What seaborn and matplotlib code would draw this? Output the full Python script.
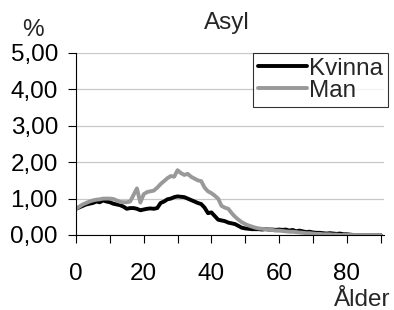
import numpy as np
import pandas as pd
import matplotlib
matplotlib.use('Agg')
import matplotlib.pyplot as plt
import seaborn as sns

# Andel (%) per ålder
alder = list(range(0, 91))
kvinna = [0.72, 0.76, 0.80, 0.84, 0.86, 0.88, 0.92, 0.90, 0.95, 0.92,
          0.90, 0.86, 0.84, 0.82, 0.78, 0.72, 0.74, 0.74, 0.72, 0.68,
          0.70, 0.72, 0.73, 0.72, 0.74, 0.88, 0.92, 0.98, 1.00, 1.04,
          1.06, 1.05, 1.04, 1.00, 0.96, 0.92, 0.88, 0.85, 0.75, 0.60,
          0.62, 0.52, 0.42, 0.40, 0.38, 0.34, 0.32, 0.30, 0.25, 0.20,
          0.18, 0.17, 0.16, 0.16, 0.16, 0.15, 0.16, 0.15, 0.15, 0.14,
          0.15, 0.14, 0.15, 0.12, 0.14, 0.10, 0.12, 0.10, 0.08, 0.09,
          0.07, 0.06, 0.06, 0.05, 0.04, 0.05, 0.04, 0.03, 0.04, 0.02,
          0.02, 0.01, 0.00, 0.00, 0.00, 0.00, 0.00, 0.00, 0.00, 0.00,
          0.00]
man = [0.72, 0.78, 0.84, 0.88, 0.92, 0.95, 0.97, 0.98, 1.00, 1.00,
       1.00, 0.99, 0.95, 0.91, 0.90, 0.90, 0.92, 1.10, 1.28, 0.89,
       1.12, 1.18, 1.20, 1.22, 1.30, 1.40, 1.48, 1.56, 1.62, 1.60,
       1.78, 1.70, 1.65, 1.68, 1.60, 1.55, 1.50, 1.48, 1.30, 1.20,
       1.15, 1.08, 1.00, 0.80, 0.75, 0.72, 0.60, 0.50, 0.42, 0.35,
       0.30, 0.26, 0.23, 0.20, 0.18, 0.17, 0.16, 0.15, 0.14, 0.12,
       0.12, 0.11, 0.10, 0.09, 0.09, 0.08, 0.07, 0.06, 0.05, 0.05,
       0.04, 0.03, 0.03, 0.02, 0.02, 0.02, 0.01, 0.01, 0.00, 0.00,
       0.00, 0.00, 0.00, 0.00, 0.00, 0.00, 0.00, 0.00, 0.00, 0.00,
       0.00]

df = pd.DataFrame({
    'Ålder': alder * 2,
    'Andel': kvinna + man,
    'Kön': ['Kvinna'] * len(alder) + ['Man'] * len(alder),
})

sns.set_style('white')
plt.rcParams['font.family'] = ['Liberation Sans', 'DejaVu Sans']
fs = 17.5

fig = plt.figure(figsize=(3.94, 3.10), dpi=100)
ax = fig.add_axes([76 / 394, 75 / 310, 308 / 394, 182 / 310])

sns.lineplot(data=df, x='Ålder', y='Andel', hue='Kön',
             palette={'Kvinna': 'black', 'Man': '#999999'},
             linewidth=2.8, ax=ax)

ax.set_xlim(0, 91)
ax.set_ylim(0, 5)
ax.set_yticks([0, 1, 2, 3, 4, 5])
ax.set_yticklabels([f'{v:.2f}'.replace('.', ',') for v in range(6)])
ax.set_xticks(range(0, 91, 10))
ax.set_xticklabels([str(v) if v % 20 == 0 and v < 90 else '' for v in range(0, 91, 10)])
ax.tick_params(axis='both', labelsize=fs, direction='out', length=6, width=0.8,
               colors='black', left=True, bottom=True)
ax.tick_params(axis='x', pad=14)
ax.tick_params(axis='y', pad=7)
ax.grid(axis='y', color='#c8c8c8', linewidth=0.9)
ax.grid(axis='x', visible=False)
for s in ['top', 'right']:
    ax.spines[s].set_visible(False)
for s in ['left', 'bottom']:
    ax.spines[s].set_color('black')
    ax.spines[s].set_linewidth(0.8)
ax.set_xlabel('')
ax.set_ylabel('')

leg = ax.legend(loc='upper right', bbox_to_anchor=(1.013, 1.0), fontsize=fs,
                frameon=True, fancybox=False, edgecolor='black',
                handlelength=2.0, handletextpad=0.1, borderpad=0.2,
                labelspacing=0.0, borderaxespad=0)
leg.get_frame().set_linewidth(0.8)

fig.text(227 / 394, 1 - 23 / 310, 'Asyl', ha='center', va='center', fontsize=fs)
fig.text(33 / 394, 1 - 30 / 310, '%', ha='center', va='center', fontsize=fs)
fig.text(362 / 394, 1 - 300 / 310, 'Ålder', ha='center', va='center', fontsize=fs)

fig.savefig('out.png', dpi=100)
